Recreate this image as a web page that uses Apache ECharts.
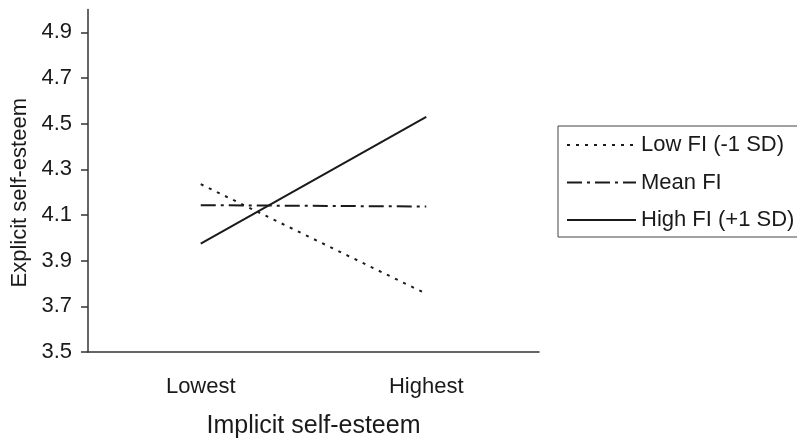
<!DOCTYPE html>
<html>
<head>
<meta charset="utf-8">
<script src="https://cdn.jsdelivr.net/npm/echarts@6/dist/echarts.min.js"></script>
<style>
  html, body { margin: 0; padding: 0; background: #fff; }
  #chart { width: 797px; height: 440px; }
</style>
</head>
<body>
<div id="chart"></div>
<script>
// Simple slopes: explicit self-esteem by implicit self-esteem at three FI levels
const categories = ['Lowest', 'Highest'];
const lowFI = [4.235, 3.755];
const meanFI = [4.143, 4.137];
const highFI = [3.975, 4.53];
const yTicks = [3.5, 3.7, 3.9, 4.1, 4.3, 4.5, 4.7, 4.9];
const seriesNames = ['Low FI (-1 SD)', 'Mean FI', 'High FI (+1 SD)'];

const font = 'Liberation Sans, Arial, Helvetica, sans-serif';
const ink = '#1a1a1a';

const chart = echarts.init(document.getElementById('chart'), null, { renderer: 'canvas' });

function lineSeries(name, data, dash) {
  return {
    name: name,
    type: 'line',
    data: data,
    symbol: 'none',
    showSymbol: false,
    silent: true,
    animation: false,
    lineStyle: { color: ink, width: 2, type: dash },
    itemStyle: { color: ink }
  };
}

chart.setOption({
  animation: false,
  backgroundColor: '#fff',
  grid: { left: 88, right: 258, top: 9.5, bottom: 88, containLabel: false, outerBoundsMode: 'none' },
  legend: {
    orient: 'vertical',
    left: 558,
    top: 126,
    padding: [8, 8, 6, 8],
    itemWidth: 69,
    itemHeight: 14,
    itemGap: 15.5,
    borderColor: '#444',
    borderWidth: 1,
    data: seriesNames,
    // line samples only, no marker dot
    itemStyle: { color: 'rgba(0,0,0,0)', borderColor: 'rgba(0,0,0,0)', borderWidth: 0 },
    textStyle: { fontFamily: font, fontSize: 22, color: ink }
  },
  xAxis: {
    type: 'category',
    data: categories,
    boundaryGap: true,
    axisLine: { lineStyle: { color: '#333', width: 1.5 } },
    axisTick: { show: false },
    axisLabel: { margin: 24, fontFamily: font, fontSize: 22, color: ink },
    name: 'Implicit self-esteem',
    nameLocation: 'middle',
    nameGap: 62,
    nameTextStyle: { fontFamily: font, fontSize: 25, color: ink }
  },
  yAxis: {
    type: 'value',
    min: 3.5,
    max: 5.0,
    interval: 0.1,
    axisLine: { show: true, lineStyle: { color: '#333', width: 1.5 } },
    axisTick: { show: true, length: 7, customValues: yTicks, lineStyle: { color: '#333', width: 1.5 } },
    axisLabel: {
      customValues: yTicks,
      margin: 16,
      fontFamily: font,
      fontSize: 22,
      color: ink,
      formatter: v => Number(v).toFixed(1)
    },
    splitLine: { show: false },
    name: 'Explicit self-esteem',
    nameLocation: 'middle',
    nameGap: 55,
    nameTextStyle: { fontFamily: font, fontSize: 22, color: ink, padding: [0, 24, 0, 0] }
  },
  series: [
    lineSeries(seriesNames[0], lowFI, [3, 6]),
    lineSeries(seriesNames[1], meanFI, [15, 5, 3, 5]),
    lineSeries(seriesNames[2], highFI, 'solid')
  ]
});
</script>
</body>
</html>
